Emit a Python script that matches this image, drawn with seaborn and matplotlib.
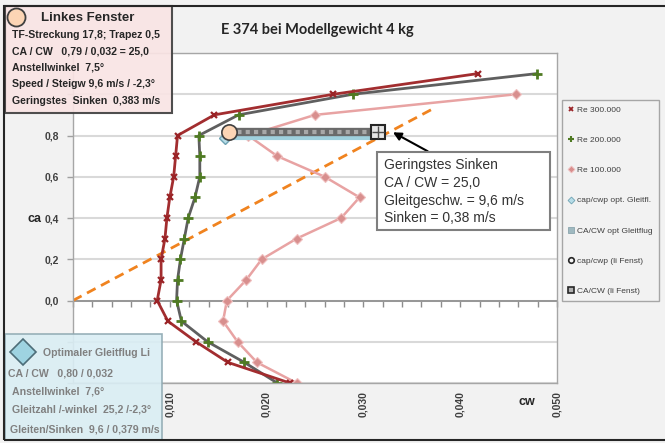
import numpy as np
import matplotlib
matplotlib.use("Agg")
import matplotlib.pyplot as plt
from matplotlib.lines import Line2D
from matplotlib.patches import Rectangle
import seaborn as sns

# ---------------- data ----------------
ca_levels = [1.10, 1.0, 0.9, 0.8, 0.7, 0.6, 0.5, 0.4, 0.3, 0.2, 0.1, 0.0, -0.1, -0.2, -0.3, -0.4]
re300_cw = [0.0418, 0.0269, 0.0146, 0.0108, 0.0106, 0.0104, 0.0100, 0.0097, 0.0095,
            0.0091, 0.0091, 0.0087, 0.0098, 0.0127, 0.0160, 0.0224]
re300_ca = ca_levels
re200_cw = [0.0479, 0.0289, 0.0171, 0.0130, 0.0131, 0.0131, 0.0126, 0.0119, 0.0115,
            0.0111, 0.0108, 0.0107, 0.0112, 0.0139, 0.0177, 0.0211]
re200_ca = ca_levels
re100_cw = [0.0458, 0.0250, 0.0181, 0.0211, 0.0260, 0.0296, 0.0277, 0.0231,
            0.0195, 0.0179, 0.0159, 0.0155, 0.0170, 0.0190, 0.0231]
re100_ca = ca_levels[1:]
glide_cw = [0.0, 0.037]          # line ca = 25 * cw
glide_ca = [0.0, 0.925]
opt_cw = [0.0157, 0.0310]
opt_ca = [0.79, 0.79]
fenst_cw = [0.0161, 0.0315]
fenst_ca = [0.815, 0.815]
arrow_head = (0.0328, 0.822)
arrow_tail = (0.0369, 0.717)

x_ticks = [0.0, 0.01, 0.02, 0.03, 0.04, 0.05]
x_labels = ["", "0,010", "0,020", "0,030", "0,040", "0,050"]
y_ticks = [-0.4, -0.2, 0.0, 0.2, 0.4, 0.6, 0.8, 1.0, 1.2]
y_labels = ["", "", "0,0", "0,2", "0,4", "0,6", "0,8", "", ""]
legend_labels = ["Re 300.000", "Re 200.000", "Re 100.000", "cap/cwp opt. Gleitfl.",
                 "CA/CW opt Gleitflug", "cap/cwp (li Fenst)", "CA/CW (li Fenst)"]
title = "E 374 bei Modellgewicht 4 kg"
left_box = ["TF-Streckung 17,8; Trapez 0,5", "CA / CW   0,79 / 0,032 = 25,0",
            "Anstellwinkel  7,5°", "Speed / Steigw 9,6 m/s / -2,3°",
            "Geringstes  Sinken  0,383 m/s"]
opt_box = ["CA / CW   0,80 / 0,032", "Anstellwinkel  7,6°",
           "Gleitzahl /-winkel  25,2 /-2,3°", "Gleiten/Sinken  9,6 / 0,379 m/s"]
note_lines = ["Geringstes Sinken", "CA / CW = 25,0", "Gleitgeschw. = 9,6 m/s", "Sinken = 0,38 m/s"]

# ---------------- style ----------------
sns.set_theme(style="white")
plt.rcParams["font.family"] = ["Liberation Sans", "DejaVu Sans"]

W, H = 665, 443
fig = plt.figure(figsize=(W / 100, H / 100), dpi=100, facecolor="#f2f2f2")


def fx(x):
    return x / W


def fy(y):
    return 1 - y / H


ax = fig.add_axes([fx(73), fy(383), fx(557) - fx(73), fy(53) - fy(383)])
ax.set_facecolor("white")
ax.set_xlim(0, 0.05)
ax.set_ylim(-0.4, 1.2)

ax.set_yticks(y_ticks)
ax.set_yticklabels(y_labels, fontsize=7.5, fontweight="bold", color="#404040")
ax.set_xticks(x_ticks)
ax.set_xticklabels(x_labels, rotation=90, fontsize=7.5, fontweight="bold", color="#404040")
ax.tick_params(axis="x", length=0, pad=6)
ax.tick_params(axis="y", length=4, width=1, color="#a0a0a0", pad=6, left=True)
ax.yaxis.grid(True, color="#d9d9d9", lw=1.5)
ax.xaxis.grid(False)
for s in ax.spines.values():
    s.set_color("#a6a6a6")
    s.set_linewidth(1.0)

# axis line at ca = 0 with tick marks
ax.axhline(0, color="#8c8c8c", lw=1.2, zorder=1.5)
sec = ax.secondary_xaxis(0.25)
sec.set_xticks(np.arange(0, 0.0501, 0.002))
sec.tick_params(axis="x", direction="out", length=4, width=1, color="#8c8c8c",
                labelbottom=False, labeltop=False, bottom=True, top=False)
for s in sec.spines.values():
    s.set_visible(False)

ax.set_xlabel("")
ax.set_ylabel("")
fig.text(fx(527), fy(402), "cw", fontsize=9, fontweight="bold", color="#262626",
         ha="center", va="center")
fig.text(fx(34), fy(219), "ca", fontsize=9, fontweight="bold", color="#262626",
         ha="center", va="center")

# ---------------- series ----------------
sns.lineplot(x=glide_cw, y=glide_ca, sort=False, estimator=None, ax=ax,
             color="#f0831f", lw=2)
ax.lines[-1].set_dashes([3.5, 2.2])

sns.lineplot(x=re100_cw, y=re100_ca, sort=False, estimator=None, ax=ax,
             color="#e8a3a3", lw=1.8, marker="D", markersize=5,
             markerfacecolor="#d88f8e", markeredgecolor="#f0c0c0", markeredgewidth=0.8)
sns.lineplot(x=re200_cw, y=re200_ca, sort=False, estimator=None, ax=ax,
             color="#5f5f5f", lw=2, marker="+", markersize=7,
             markeredgecolor="#4f7a23", markeredgewidth=2)
sns.lineplot(x=re300_cw, y=re300_ca, sort=False, estimator=None, ax=ax,
             color="#a22d2f", lw=2, marker="x", markersize=4,
             markeredgecolor="#9a2326", markeredgewidth=1.6)

# optimum glide (blue) and left window (grey bar)
sns.lineplot(x=opt_cw, y=opt_ca, sort=False, estimator=None, ax=ax,
             color="#9fd0dd", lw=3)
ax.plot(opt_cw[:1], opt_ca[:1], ls="none", marker="D", ms=6,
        mfc="#b7dde8", mec="#6fa3b3", mew=1)
sns.lineplot(x=fenst_cw, y=fenst_ca, sort=False, estimator=None, ax=ax,
             color="#6a6a6a", lw=6)
ax.lines[-1].set_solid_capstyle("butt")
sns.lineplot(x=fenst_cw, y=fenst_ca, sort=False, estimator=None, ax=ax,
             color="#a8a8a8", lw=3)
ax.lines[-1].set_dashes([1.0, 1.0])
ax.plot(fenst_cw[:1], fenst_ca[:1], ls="none", marker="o", ms=11,
        mfc="#fcd5b5", mec="#404040", mew=1.2, zorder=5)
ax.plot(fenst_cw[1:], fenst_ca[1:], ls="none", marker="s", ms=10,
        mfc="#e6e6e6", mec="#262626", mew=1.5, zorder=5)
ax.plot(fenst_cw[1:], fenst_ca[1:], ls="none", marker="+", ms=8,
        mec="#505050", mew=1, zorder=6)

ax.annotate("", xy=arrow_head, xytext=arrow_tail,
            arrowprops=dict(arrowstyle="-|>", color="black", lw=1.5, mutation_scale=12),
            zorder=7)

# ---------------- legend ----------------
handles = [
    Line2D([], [], ls="none", marker="x", ms=3.5, mec="#9a2326", mew=1.3),
    Line2D([], [], ls="none", marker="+", ms=5, mec="#4f7a23", mew=1.5),
    Line2D([], [], ls="none", marker="D", ms=3.5, mfc="#d88f8e", mec="#f0c0c0", mew=0.6),
    Line2D([], [], ls="none", marker="D", ms=3.5, mfc="#b7dde8", mec="#6fa3b3", mew=0.6),
    Line2D([], [], ls="none", marker="s", ms=4, mfc="#9fb9c0", mec="#8aa5ad", mew=0.6),
    Line2D([], [], ls="none", marker="o", ms=4, mfc="#f5f5f5", mec="#262626", mew=1.2),
    Line2D([], [], ls="none", marker="s", ms=4, mfc="#b0b0b0", mec="#262626", mew=1.2),
]
leg = fig.legend(handles, legend_labels, loc="upper left",
                 bbox_to_anchor=(fx(562), fy(100)), bbox_transform=fig.transFigure,
                 fontsize=6, frameon=True, fancybox=False, framealpha=1,
                 facecolor="#f2f2f2", edgecolor="#a6a6a6", borderpad=0.7,
                 labelspacing=2.69, handlelength=0.8, handletextpad=0.35,
                 borderaxespad=0)
for t in leg.get_texts():
    t.set_color("#404040")
leg.get_frame().set_linewidth(1.0)

# ---------------- title ----------------
fig.text(fx(317), fy(30), title, fontsize=10.5, fontweight="bold", color="#262626",
         ha="center", va="center", family=["Lato", "DejaVu Sans"])

# ---------------- annotation box ----------------
fig.add_artist(Rectangle((fx(377), fy(230)), fx(550) - fx(377), fy(152) - fy(230),
                         transform=fig.transFigure, fc="white", ec="#7f7f7f", lw=1.5,
                         zorder=8))
for i, line in enumerate(note_lines):
    fig.text(fx(384), fy(165 + 17.8 * i), line, fontsize=10, color="#333333",
             ha="left", va="center", zorder=9)

# ---------------- left window box ----------------
fig.add_artist(Rectangle((fx(5), fy(113)), fx(172) - fx(5), fy(6) - fy(113),
                         transform=fig.transFigure, fc="#f9e4e4", ec="#404040", lw=1.5,
                         alpha=0.92, zorder=8))
fig.add_artist(Line2D([fx(16)], [fy(17)], transform=fig.transFigure, ls="none",
                      marker="o", ms=13, mfc="#fcd5b5", mec="#404040", mew=1.3, zorder=9))
fig.text(fx(41), fy(18), "Linkes Fenster", fontsize=9.5, fontweight="bold",
         color="#262626", ha="left", va="center", zorder=9)
for i, line in enumerate(left_box):
    fig.text(fx(12), fy(34.5 + 16.5 * i), line, fontsize=7.6, fontweight="bold",
             color="#262626", ha="left", va="center", zorder=9)

# ---------------- optimum box ----------------
fig.add_artist(Rectangle((fx(5), fy(440)), fx(162) - fx(5), fy(334) - fy(440),
                         transform=fig.transFigure, fc="#daeef4", ec="#8fa9b2", lw=1.2,
                         alpha=0.9, zorder=8))
fig.add_artist(Line2D([fx(23)], [fy(352)], transform=fig.transFigure, ls="none",
                      marker="D", ms=13, mfc="#9ed3e1", mec="#4d6d78", mew=1.2, zorder=9))
fig.text(fx(43), fy(353), "Optimaler Gleitflug Li", fontsize=7.6, fontweight="bold",
         color="#808080", ha="left", va="center", zorder=9)
opt_x = [8, 12, 12, 10]
opt_y = [373, 392, 410, 429]
for line, xx, yy in zip(opt_box, opt_x, opt_y):
    fig.text(fx(xx), fy(yy), line, fontsize=7.6, fontweight="bold",
             color="#808080", ha="left", va="center", zorder=9)

# ---------------- outer frame ----------------
fig.add_artist(Rectangle((fx(4), fy(440)), 1.02 - fx(4), fy(6) - fy(440),
                         transform=fig.transFigure, fc="none", ec="#262626", lw=1.5,
                         zorder=10))

fig.savefig("out.png", dpi=100, facecolor=fig.get_facecolor())
